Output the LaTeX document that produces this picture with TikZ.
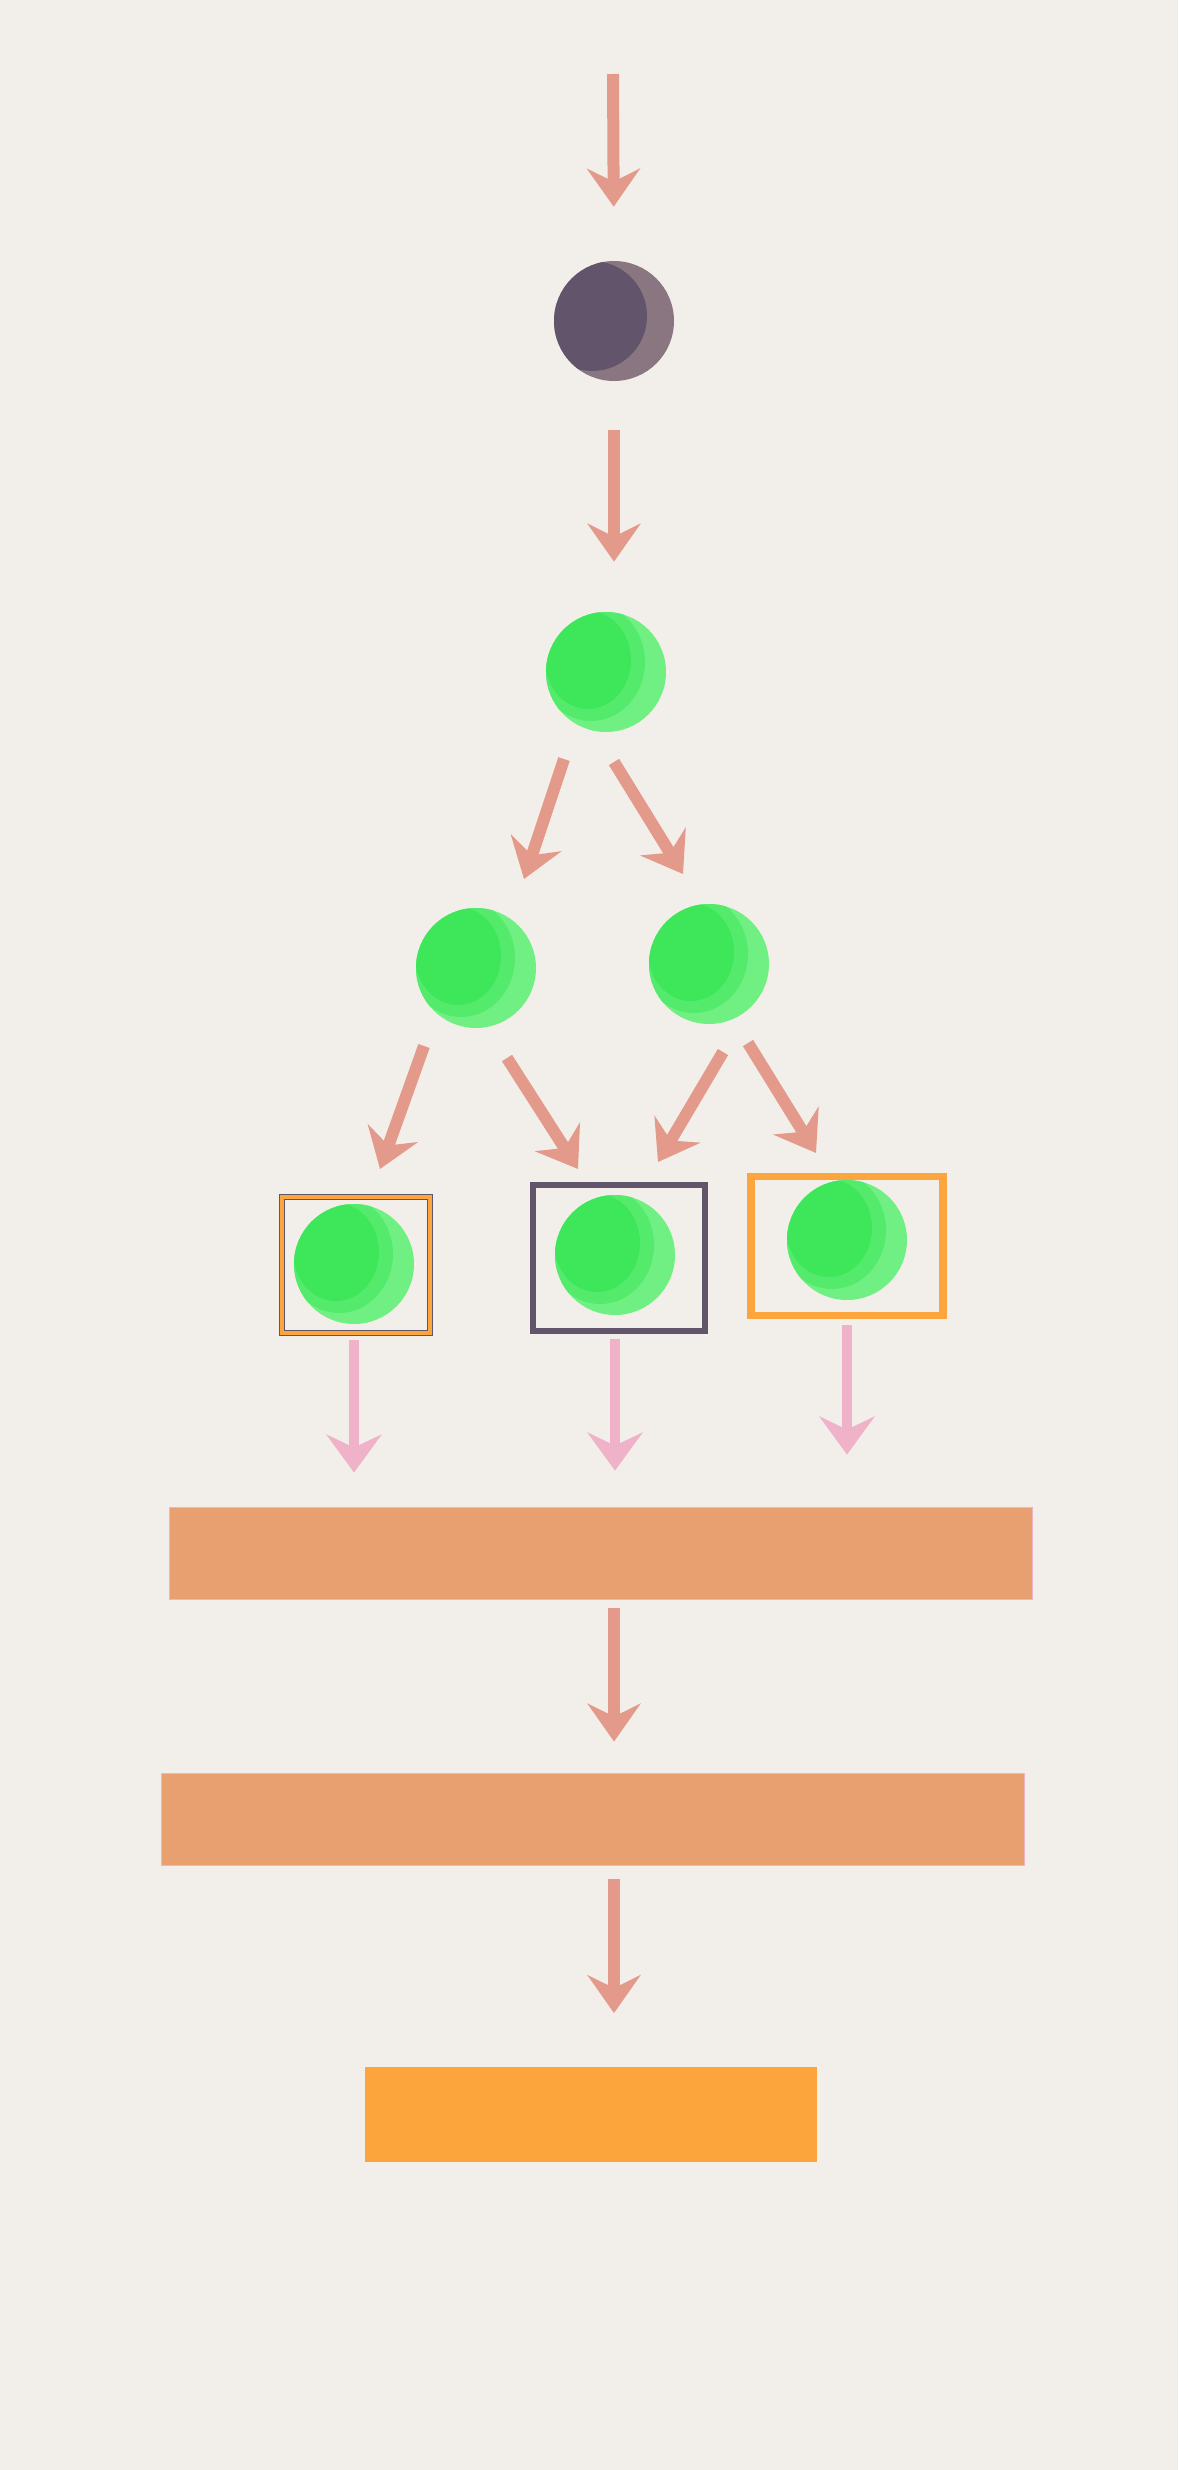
\documentclass[tikz,border=0pt]{standalone}
\usepackage{tikz}
\usetikzlibrary{arrows.meta,calc,positioning}

\definecolor{bg}{HTML}{F2EFEA}
\definecolor{salmon}{HTML}{E49A8A}
\definecolor{rose}{HTML}{EFB2C9}
\definecolor{plum}{HTML}{62546A}
\definecolor{plumlight}{HTML}{8A7680}
\definecolor{leaf}{HTML}{3EE65A}
\definecolor{leaflight}{HTML}{70F082}
\definecolor{peach}{HTML}{E8A070}
\definecolor{amber}{HTML}{FCA53D}

\tikzset{
  flow/.style={line width=0.24cm, salmon, -{Stealth[length=0.76cm,width=1.06cm,inset=0.26cm]}},
  feed/.style={line width=0.2cm, rose, -{Stealth[length=0.76cm,width=1.1cm,inset=0.26cm]}},
  ball/.style 2 args={circle, inner sep=0pt, minimum size=2.4cm, fill=#2,
    path picture={
      \fill[#1!55!#2] ([xshift=-0.3cm,yshift=0.2cm]path picture bounding box.center) ellipse (1.08cm and 1.18cm);
      \fill[#1] ([xshift=-0.36cm,yshift=0.24cm]path picture bounding box.center) ellipse (0.86cm and 0.98cm);}},
  darkball/.style={circle, inner sep=0pt, minimum size=2.4cm, fill=plumlight,
    path picture={
      \fill[plum] ([xshift=-0.44cm,yshift=0.1cm]path picture bounding box.center) circle (1.1cm);}},
  bar/.style={rectangle, inner sep=0pt, minimum height=1.84cm, draw=rose, line width=0.5pt}
}

\begin{document}
\begin{tikzpicture}[x=0.02cm, y=-0.02cm]
    % Canvas
    \fill[bg] (0,0) rectangle (1178,2470);
    \useasboundingbox (0,0) rectangle (1178,2470);

    % Source
    \coordinate (in) at (613,74);
    \node[darkball] (D) at (614,321) {};

    % Tree
    \node[ball={leaf}{leaflight}] (G0) at (606,672) {};
    \node[ball={leaf}{leaflight}] (GL) at (476,968) {};
    \node[ball={leaf}{leaflight}] (GR) at (709,964) {};

    % Leaves in boxes
    \node[draw=plum, double=amber, double distance=0.08cm, line width=0.5pt,
          minimum width=2.96cm, minimum height=2.72cm] (B1) at (356,1265) {};
    \node[draw=plum, line width=0.13cm, minimum width=3.44cm, minimum height=2.92cm] (B2) at (619,1258) {};
    \node[draw=amber, line width=0.15cm, minimum width=3.84cm, minimum height=2.78cm] (B3) at (847,1246) {};
    \node[ball={leaf}{leaflight}] (C1) at (354,1264) {};
    \node[ball={leaf}{leaflight}] (C2) at (615,1255) {};
    \node[ball={leaf}{leaflight}] (C3) at (847,1240) {};

    % Bars
    \node[bar, fill=peach, minimum width=17.28cm] (R1) at (601,1553) {};
    \node[bar, fill=peach, minimum width=17.28cm] (R2) at (593,1819) {};
    \node[bar, fill=amber, draw=none, minimum width=9.04cm, minimum height=1.9cm] (R3) at (591,2114) {};

    % Arrows
    \draw[flow, shorten >=1.08cm] (in) -- (D.north);
    \draw[flow, shorten <=0.98cm, shorten >=1cm] (D.south) -- (D.south |- G0.north);
    \draw[flow] ($(G0)+(-42,87)$) -- ($(GL)+(48,-89)$);
    \draw[flow] ($(G0)+(8,90)$) -- ($(GR)+(-26,-90)$);
    \draw[flow] ($(GL)+(-52,78)$) -- ($(C1)+(26,-95)$);
    \draw[flow] ($(GL)+(31,90)$) -- ($(C2)+(-37,-86)$);
    \draw[flow] ($(GR)+(14,88)$) -- ($(C2)+(43,-93)$);
    \draw[flow] ($(GR)+(39,79)$) -- ($(C3)+(-31,-87)$);

    \draw[feed, shorten <=0.14cm, shorten >=0.68cm] (C1 |- B1.south) -- (C1 |- R1.north);
    \draw[feed, shorten <=0.1cm, shorten >=0.72cm] (C2 |- B2.south) -- (C2 |- R1.north);
    \draw[feed, shorten <=0.12cm, shorten >=1.04cm] (C3 |- B3.south) -- (C3 |- R1.north);

    \draw[flow, shorten <=0.18cm, shorten >=0.62cm] (R1.south -| D) -- (R2.north -| D);
    \draw[flow, shorten <=0.28cm, shorten >=1.06cm] (R2.south -| D) -- (R3.north -| D);
\end{tikzpicture}
\end{document}
